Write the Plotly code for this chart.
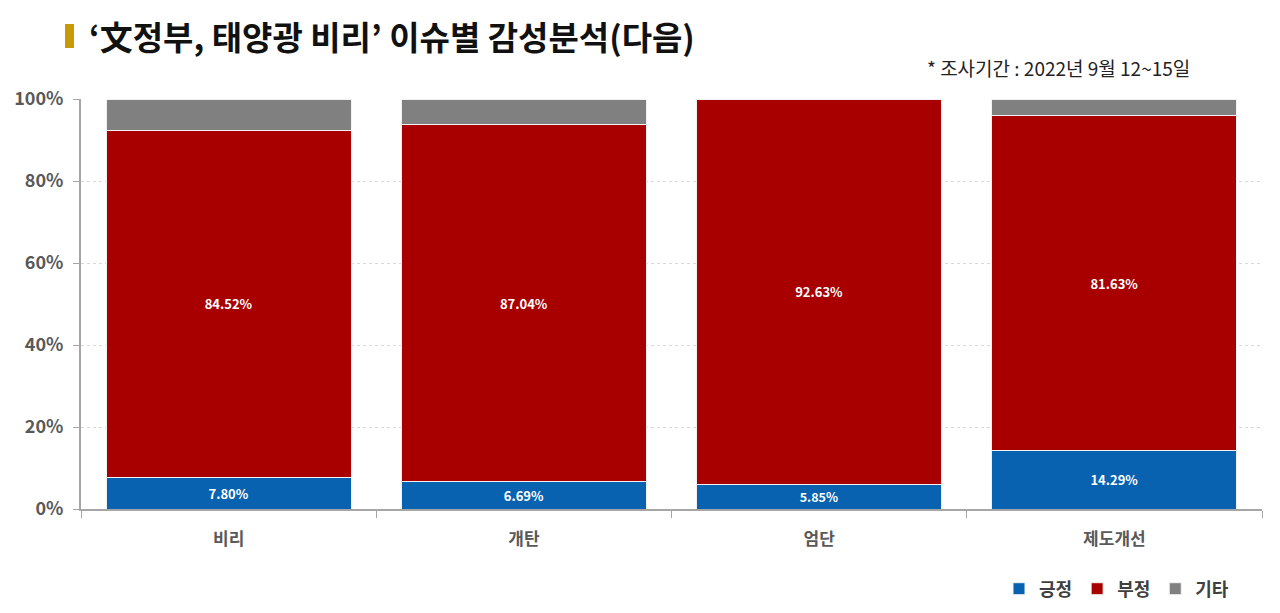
import plotly.graph_objects as go

categories = ["비리", "개탄", "엄단", "제도개선"]
positive = [7.80, 6.69, 5.85, 14.29]
negative = [84.52, 87.04, 92.63, 81.63]
other = [7.68, 6.27, 0.0, 4.08]
y_ticks = [0, 20, 40, 60, 80, 100]
y_tick_labels = ["0%", "20%", "40%", "60%", "80%", "100%"]

FONT = "Noto Sans CJK KR"

fig = go.Figure()
fig.add_trace(go.Bar(
    name="긍정", x=categories, y=positive,
    text=[f"{v:.2f}%" for v in positive], textposition="inside",
    insidetextanchor="middle",
    textfont=dict(color="white", size=13, family=FONT, weight="bold"),
    marker=dict(color="#0862B0", line=dict(color="#F2F2F2", width=1)),
))
fig.add_trace(go.Bar(
    name="부정", x=categories, y=negative,
    text=[f"{v:.2f}%" for v in negative], textposition="inside",
    insidetextanchor="middle",
    textfont=dict(color="white", size=13, family=FONT, weight="bold"),
    marker=dict(color="#A80000", line=dict(color="#F2F2F2", width=1)),
))
fig.add_trace(go.Bar(
    name="기타", x=categories, y=other,
    text=["" for _ in other], textposition="none",
    marker=dict(color="#808080", line=dict(color="#F2F2F2", width=1)),
))

fig.update_layout(
    barmode="stack",
    barnorm="percent",
    bargap=0.17,
    width=1280, height=613,
    margin=dict(l=81, r=18, t=99, b=104, autoexpand=False),
    paper_bgcolor="white",
    plot_bgcolor="white",
    font=dict(family=FONT, color="#595959"),
    title=dict(
        text="‘文정부, 태양광 비리’ 이슈별 감성분석(다음)",
        x=89 / 1280, xanchor="left", xref="container",
        y=1 - 38 / 613, yanchor="middle", yref="container",
        font=dict(size=33, color="#111111", family=FONT, weight="bold"),
    ),
    showlegend=True,
    legend=dict(
        orientation="h",
        xref="container", x=1234 / 1280, xanchor="right",
        yref="container", y=1 - 589 / 613, yanchor="middle",
        font=dict(size=18, color="#404040", family=FONT, weight="bold"),
        itemwidth=30, traceorder="normal",
    ),
    xaxis=dict(
        showline=True, linecolor="#A6A6A6", linewidth=2,
        ticks="outside", tickson="boundaries", ticklen=7, tickcolor="#A6A6A6",
        tickfont=dict(size=17, color="#595959", family=FONT, weight="bold"),
        ticklabelstandoff=14,
        showgrid=False,
    ),
    yaxis=dict(
        range=[0, 100],
        tickvals=y_ticks, ticktext=y_tick_labels,
        showline=True, linecolor="#A6A6A6", linewidth=2,
        ticks="outside", ticklen=6, tickcolor="#A6A6A6",
        tickfont=dict(size=18, color="#595959", family=FONT, weight="bold"),
        ticklabelstandoff=6,
        showgrid=True, gridcolor="#D9D9D9", griddash="dot", gridwidth=1,
        zeroline=False,
    ),
)

fig.add_shape(type="rect", xref="paper", yref="paper",
              x0=(65 - 81) / 1181, x1=(74 - 81) / 1181,
              y0=(509 - 48) / 410, y1=(509 - 24) / 410,
              fillcolor="#C99A06", line=dict(width=0))

fig.add_annotation(
    text="* 조사기간 : 2022년 9월 12~15일",
    xref="paper", yref="paper",
    x=(1192 - 81) / 1181, xanchor="right",
    y=(509 - 68) / 410, yanchor="middle",
    showarrow=False,
    font=dict(size=19, color="#222222", family=FONT),
)

fig.write_html("out.html")
